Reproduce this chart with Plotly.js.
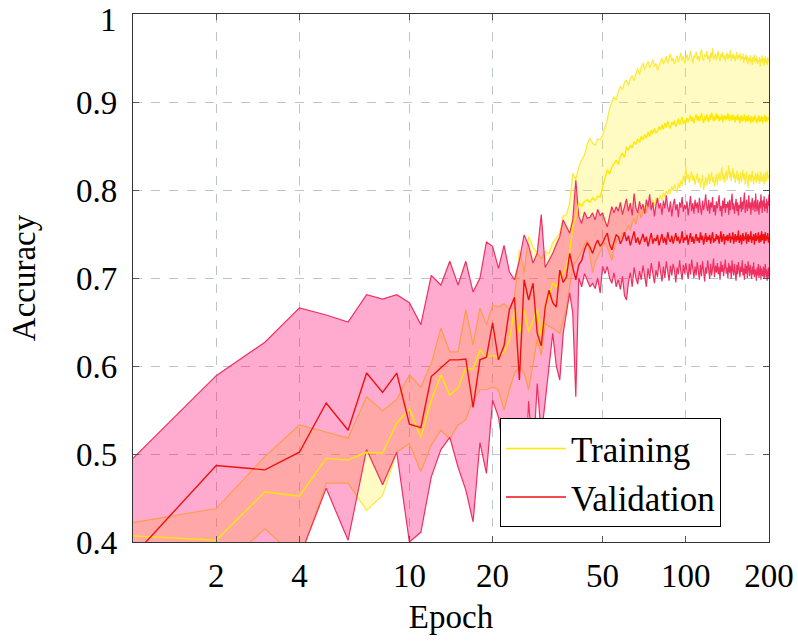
<!DOCTYPE html>
<html>
<head>
<meta charset="utf-8">
<script src="https://cdn.plot.ly/plotly-3.0.1.min.js"></script>
<style>html,body{margin:0;padding:0;background:#fff;}#chart{width:798px;height:641px;}</style>
</head>
<body>
<div id="chart"></div>
<script>
// Epochs 1..200
const epochs = Array.from({length: 200}, (_, i) => i + 1);

const xTickVals = [2, 4, 10, 20, 50, 100, 200];
const xTickText = ["2", "4", "10", "20", "50", "100", "200"];
const yTickVals = [0.4, 0.5, 0.6, 0.7, 0.8, 0.9, 1.0];
const yTickText = ["0.4", "0.5", "0.6", "0.7", "0.8", "0.9", "1"];

const trainUpper = [
.422,.438,.497,.533,.525,.518,.565,.549,.562,.590,
.576,.603,.643,.616,.616,.664,.624,.666,.647,.669,
.667,.671,.664,.678,.732,.706,.747,.735,.728,.722,
.730,.728,.740,.745,.751,.770,.772,.785,.819,.812,
.826,.834,.840,.852,.859,.853,.851,.858,.857,.862,
.872,.880,.893,.900,.906,.902,.912,.918,.914,.922,
.925,.919,.927,.930,.924,.933,.938,.931,.940,.944,
.937,.942,.946,.939,.943,.948,.940,.944,.936,.941,
.946,.950,.943,.947,.952,.944,.949,.955,.946,.950,
.943,.948,.953,.945,.951,.956,.947,.952,.944,.949,
.954,.947,.951,.958,.949,.944,.953,.950,.957,.948,
.952,.946,.955,.960,.950,.947,.954,.951,.958,.949,
.953,.945,.956,.950,.961,.948,.952,.955,.947,.953,
.958,.950,.946,.955,.951,.957,.949,.953,.946,.952,
.956,.948,.954,.950,.959,.947,.952,.955,.949,.953,
.946,.951,.957,.948,.953,.950,.956,.947,.952,.949,
.955,.944,.951,.948,.954,.946,.952,.943,.950,.947,
.953,.945,.949,.942,.951,.947,.954,.944,.950,.946,
.952,.943,.948,.945,.951,.940,.949,.946,.953,.944,
.950,.941,.947,.952,.944,.949,.942,.951,.946,.948];

const trainMean = [
.407,.402,.457,.452,.495,.493,.502,.501,.535,.551,
.519,.561,.590,.567,.575,.598,.596,.618,.610,.612,
.610,.616,.629,.664,.637,.664,.639,.652,.664,.633,
.667,.680,.694,.690,.701,.706,.713,.730,.758,.770,
.785,.782,.787,.789,.786,.791,.788,.793,.792,.803,
.812,.823,.818,.826,.830,.834,.829,.838,.842,.837,
.849,.845,.851,.848,.855,.852,.858,.854,.861,.857,
.863,.859,.866,.861,.868,.864,.870,.865,.867,.872,
.868,.874,.869,.876,.871,.878,.873,.870,.877,.874,
.879,.872,.876,.881,.874,.878,.883,.875,.879,.876,
.882,.877,.880,.885,.878,.883,.876,.881,.886,.879,
.884,.878,.882,.887,.880,.876,.884,.879,.886,.881,
.877,.885,.880,.888,.882,.878,.884,.879,.887,.881,
.885,.878,.883,.880,.886,.877,.882,.885,.879,.884,
.880,.887,.881,.878,.885,.882,.879,.886,.880,.883,
.877,.884,.880,.886,.879,.883,.876,.882,.885,.878,
.883,.879,.886,.880,.877,.884,.881,.878,.885,.879,
.882,.876,.884,.880,.877,.883,.879,.885,.878,.881,
.876,.883,.879,.885,.877,.882,.878,.884,.880,.876,
.883,.879,.885,.877,.881,.884,.878,.882,.879,.883];

const trainLower = [
.375,.365,.415,.380,.467,.467,.436,.453,.502,.512,
.480,.510,.527,.517,.533,.539,.561,.573,.573,.576,
.573,.550,.573,.592,.598,.592,.573,.603,.630,.612,
.649,.645,.643,.640,.637,.652,.667,.690,.713,.718,
.724,.730,.738,.743,.725,.706,.718,.724,.728,.735,
.741,.735,.728,.720,.733,.741,.747,.744,.752,.749,
.755,.760,.754,.763,.768,.761,.770,.775,.768,.777,
.781,.774,.783,.779,.786,.789,.782,.791,.786,.789,
.794,.788,.797,.792,.799,.795,.801,.796,.804,.799,
.806,.800,.797,.808,.802,.811,.805,.816,.809,.826,
.812,.818,.808,.815,.821,.810,.817,.806,.813,.819,
.808,.814,.803,.811,.817,.800,.809,.815,.805,.812,
.818,.807,.813,.820,.809,.815,.804,.812,.818,.806,
.813,.820,.810,.816,.826,.812,.819,.808,.815,.822,
.811,.817,.828,.814,.821,.810,.818,.825,.813,.819,
.808,.815,.822,.811,.818,.807,.814,.820,.809,.816,
.823,.812,.819,.806,.815,.821,.810,.803,.817,.811,
.818,.809,.815,.822,.812,.806,.816,.811,.819,.808,
.814,.820,.810,.817,.807,.813,.821,.809,.815,.811,
.818,.806,.813,.820,.809,.815,.822,.812,.817,.814];

const valUpper = [
.495,.589,.627,.666,.658,.650,.681,.676,.681,.672,
.647,.703,.692,.719,.692,.719,.684,.700,.741,.736,
.711,.737,.707,.698,.720,.749,.737,.717,.728,.772,
.712,.720,.728,.738,.747,.766,.758,.751,.766,.811,
.770,.762,.775,.768,.769,.774,.766,.778,.771,.774,
.765,.758,.770,.781,.774,.781,.776,.786,.772,.783,
.790,.776,.785,.771,.796,.780,.774,.787,.778,.784,
.773,.789,.781,.795,.777,.786,.770,.783,.791,.779,
.785,.772,.788,.779,.794,.781,.775,.787,.770,.783,
.790,.777,.784,.769,.786,.780,.792,.775,.783,.778,
.787,.771,.782,.793,.776,.785,.773,.789,.779,.786,
.774,.791,.780,.772,.788,.777,.784,.795,.781,.776,
.789,.773,.786,.780,.792,.775,.783,.771,.787,.779,
.785,.794,.776,.782,.770,.788,.779,.791,.774,.784,
.780,.787,.772,.789,.777,.784,.796,.778,.785,.773,
.782,.790,.776,.786,.771,.783,.779,.792,.775,.787,
.778,.785,.797,.774,.783,.789,.776,.781,.794,.779,
.786,.772,.784,.791,.777,.783,.788,.775,.796,.781,
.776,.789,.783,.772,.787,.779,.795,.782,.774,.788,
.781,.793,.776,.785,.779,.790,.774,.787,.782,.795];

const valMean = [
.384,.487,.482,.502,.558,.527,.592,.570,.592,.534,
.530,.588,.598,.607,.607,.608,.553,.607,.610,.649,
.607,.623,.664,.678,.584,.698,.675,.694,.637,.623,
.667,.686,.672,.667,.709,.695,.701,.728,.712,.698,
.715,.720,.732,.740,.735,.728,.737,.743,.736,.740,
.746,.751,.738,.732,.741,.749,.747,.739,.744,.752,
.742,.748,.737,.745,.753,.740,.746,.738,.744,.750,
.741,.747,.736,.744,.751,.739,.745,.742,.749,.737,
.743,.750,.740,.746,.738,.752,.744,.741,.748,.739,
.745,.751,.742,.747,.739,.744,.753,.740,.746,.743,
.749,.738,.745,.751,.741,.747,.739,.744,.750,.742,
.746,.740,.752,.743,.748,.738,.745,.751,.741,.747,
.743,.749,.739,.746,.752,.740,.745,.742,.750,.744,
.748,.739,.746,.753,.741,.745,.750,.738,.747,.743,
.749,.742,.746,.751,.740,.747,.744,.752,.739,.745,
.750,.741,.748,.743,.754,.740,.746,.749,.738,.745,
.751,.742,.747,.744,.752,.739,.746,.750,.741,.748,
.744,.753,.740,.747,.743,.750,.738,.746,.751,.742,
.748,.744,.752,.740,.746,.749,.741,.753,.743,.747,
.750,.739,.746,.752,.742,.748,.744,.751,.740,.747];

const valLower = [
.300,.330,.360,.382,.461,.402,.505,.465,.502,.400,
.411,.474,.505,.519,.485,.459,.423,.513,.478,.561,
.542,.500,.530,.470,.520,.450,.560,.490,.580,.520,
.560,.600,.637,.600,.584,.637,.660,.683,.660,.565,
.700,.690,.705,.698,.690,.694,.688,.700,.683,.713,
.705,.713,.700,.694,.706,.690,.698,.687,.702,.680,
.675,.695,.706,.690,.712,.700,.693,.708,.698,.714,
.703,.690,.711,.699,.717,.705,.694,.709,.701,.719,
.706,.696,.713,.700,.719,.708,.697,.714,.703,.716,
.709,.695,.712,.704,.720,.707,.698,.715,.705,.717,
.710,.699,.716,.704,.721,.708,.700,.713,.703,.718,
.707,.698,.715,.702,.719,.709,.696,.712,.705,.720,
.708,.699,.716,.703,.711,.722,.701,.714,.706,.717,
.704,.713,.698,.719,.707,.715,.702,.710,.721,.705,
.712,.700,.717,.706,.714,.699,.720,.708,.703,.716,
.709,.697,.715,.704,.718,.706,.701,.713,.707,.720,
.703,.711,.698,.716,.705,.714,.700,.719,.708,.702,
.715,.706,.699,.713,.704,.718,.701,.710,.707,.697,
.712,.703,.716,.700,.709,.714,.698,.711,.705,.702,
.713,.699,.708,.716,.701,.710,.697,.706,.712,.700];

const FONT = "Liberation Serif";
const trainLine = "#fbe93a";
const trainMeanLine = "#ffe800";
const valEdge = "#ee3060";
const valMeanLine = "#f01010";

const traces = [
  {x: epochs, y: trainLower, type: "scatter", mode: "lines",
   line: {color: trainLine, width: 1.2}, showlegend: false, hoverinfo: "skip"},
  {x: epochs, y: trainUpper, type: "scatter", mode: "lines", fill: "tonexty",
   fillcolor: "rgba(255,240,40,0.28)",
   line: {color: trainLine, width: 1.2}, showlegend: false, hoverinfo: "skip"},
  {x: epochs, y: valLower, type: "scatter", mode: "lines",
   line: {color: valEdge, width: 1.2}, showlegend: false, hoverinfo: "skip"},
  {x: epochs, y: valUpper, type: "scatter", mode: "lines", fill: "tonexty",
   fillcolor: "rgba(255,0,110,0.33)",
   line: {color: valEdge, width: 1.2}, showlegend: false, hoverinfo: "skip"},
  {x: epochs, y: trainMean, type: "scatter", mode: "lines", name: "Training",
   line: {color: trainMeanLine, width: 1.4}},
  {x: epochs, y: valMean, type: "scatter", mode: "lines", name: "Validation",
   line: {color: valMeanLine, width: 1.4}}
];

// top label ("1") is drawn as an annotation so it is not clipped at the page edge
const yAxisText = yTickText.slice(0, -1).concat([""]);

const axisCommon = {
  showgrid: true, gridcolor: "#bcc6c6", griddash: "dash", gridwidth: 1,
  zeroline: false, showline: true, linecolor: "#333", linewidth: 1.2,
  mirror: "ticks", ticks: "inside", ticklen: 6, tickcolor: "#555",
  tickfont: {family: FONT, size: 33, color: "#000"}
};

const layout = {
  width: 798, height: 641,
  margin: {l: 133, r: 29, t: 14, b: 99},
  paper_bgcolor: "#fff", plot_bgcolor: "#fff",
  font: {family: FONT, size: 33, color: "#000"},
  xaxis: Object.assign({}, axisCommon, {
    type: "log", range: [0, Math.log10(200)],
    tickmode: "array", tickvals: xTickVals, ticktext: xTickText,
    ticklabelstandoff: 4,
    title: {text: "Epoch", font: {family: FONT, size: 33, color: "#000"}, standoff: 12}
  }),
  yaxis: Object.assign({}, axisCommon, {
    range: [0.4, 1.0],
    tickmode: "array", tickvals: yTickVals, ticktext: yAxisText,
    ticklabelstandoff: 8,
    title: {text: "Accuracy", font: {family: FONT, size: 33, color: "#000"}, standoff: 30}
  }),
  annotations: [{
    xref: "paper", yref: "y", x: 0, y: yTickVals[6], text: yTickText[6],
    showarrow: false, xanchor: "right", yanchor: "top", xshift: -14, yshift: 14,
    font: {family: FONT, size: 33, color: "#000"}
  }],
  legend: {
    x: 0.577, y: 0.028, xanchor: "left", yanchor: "bottom",
    traceorder: "normal",
    bgcolor: "#fff", bordercolor: "#000", borderwidth: 1,
    font: {family: FONT, size: 35, color: "#000"},
    tracegroupgap: 0, itemwidth: 60,
    entrywidth: 240, entrywidthmode: "pixels"
  },
  showlegend: true
};

Plotly.newPlot("chart", traces, layout, {staticPlot: true, displayModeBar: false});
</script>
</body>
</html>
